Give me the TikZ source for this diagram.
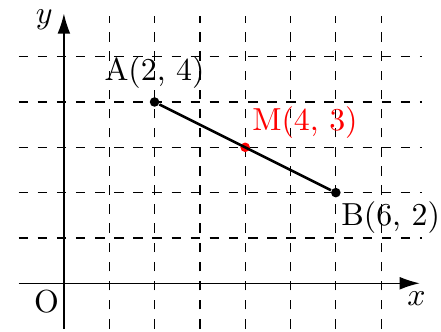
\documentclass[tikz,border=0pt]{standalone}
\usepackage{xcolor}
\usepackage{tikz}
\usetikzlibrary{arrows.meta,positioning}
\tikzset{
  gridline/.style={dashed, thin},
  axis/.style={-{Latex[length=2.2mm,width=1.4mm]}, thin},
  seg/.style={thick},
  pt/.style={circle, fill, inner sep=0pt, minimum size=3pt},
}

\begin{document}
\begin{tikzpicture}[x=0.5cm, y=0.5cm]
  \useasboundingbox (-1.41,-1.06) rectangle (8.32,6.25);
  % grid
  \foreach \i in {1,...,7}
    \draw[gridline] (\i,-1) -- (\i,5.9);
  \foreach \j in {1,...,5}
    \draw[gridline] (-1,\j) -- (7.9,\j);
  % axes
  \coordinate (xs) at (-1,0);
  \coordinate (xe) at (7.85,0);
  \coordinate (ys) at (0,-1);
  \coordinate (ye) at (0,5.95);
  \draw[axis] (xs) -- (xe);
  \draw[axis] (ys) -- (ye);
  \node[below=-1pt, xshift=-1pt] (xl) at (xe) {$x$};
  \node[left=0pt, yshift=-2pt] (yl) at (ye) {$y$};
  \node[below left, xshift=2pt, yshift=1.5pt] (o) at (0,0) {O};
  % points
  \node[pt] (A) at (2,4) {};
  \node[pt] (B) at (6,2) {};
  \node[pt, red] (M) at (4,3) {};
  \draw[seg] (A) -- (B);
  \node[above=-1pt of A] (la) {A(2, 4)};
  \node[below right=-2pt and -3pt of B] (lb) {B(6, 2)};
  \node[above right=-2pt and -2.5pt of M, red] (lm) {M(4, 3)};
\end{tikzpicture}
\end{document}
